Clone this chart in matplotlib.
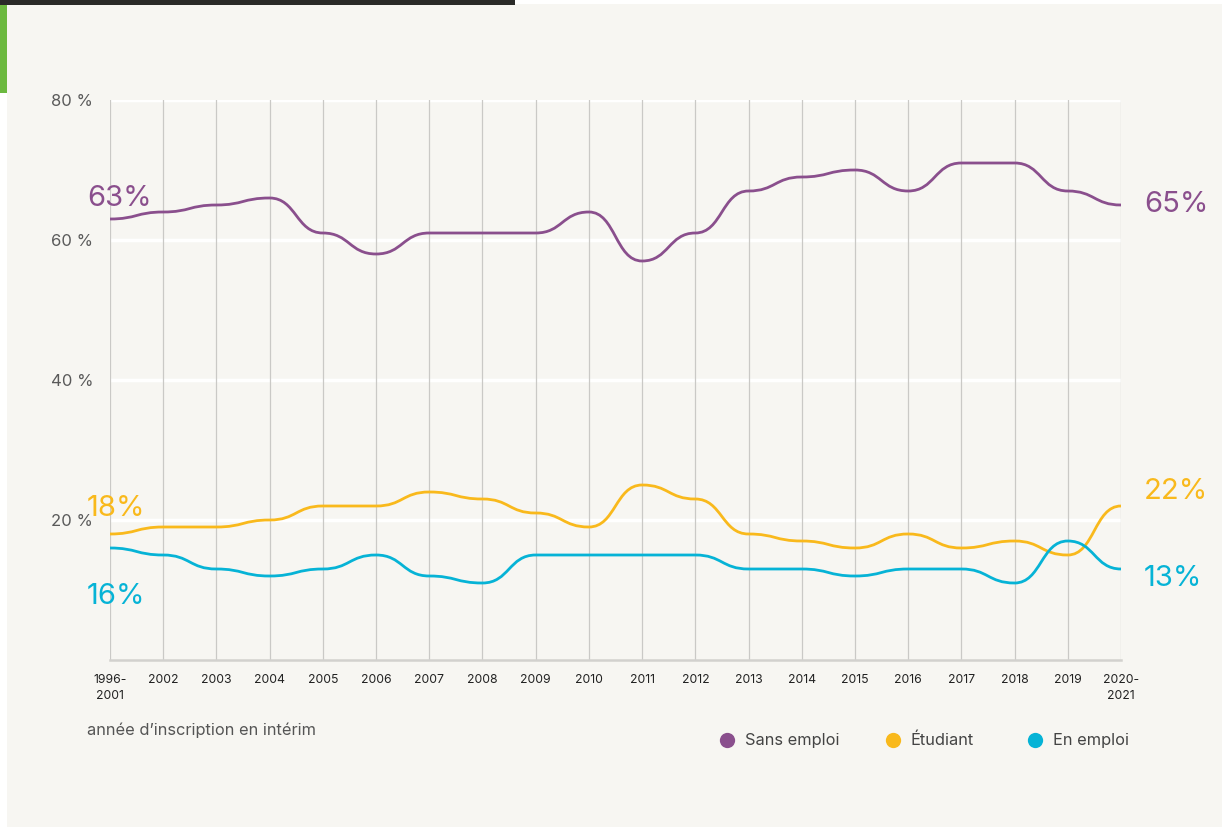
import matplotlib
matplotlib.use("Agg")
import matplotlib.pyplot as plt
from matplotlib.path import Path
from matplotlib.patches import PathPatch, Rectangle
from matplotlib.lines import Line2D

# Data
years = ["1996-\n2001", "2002", "2003", "2004", "2005", "2006", "2007", "2008", "2009",
         "2010", "2011", "2012", "2013", "2014", "2015", "2016", "2017", "2018", "2019",
         "2020-\n2021"]
sans_emploi = [63, 64, 65, 66, 61, 58, 61, 61, 61, 64, 57, 61, 67, 69, 70, 67, 71, 71, 67, 65]
etudiant = [18, 19, 19, 20, 22, 22, 24, 23, 21, 19, 25, 23, 18, 17, 16, 18, 16, 17, 15, 22]
en_emploi = [16, 15, 13, 12, 13, 15, 12, 11, 15, 15, 15, 15, 13, 13, 12, 13, 13, 11, 17, 13]
y_ticks = [20, 40, 60, 80]

series = [
    ("Sans emploi", sans_emploi, "#8a4f8d"),
    ("Étudiant", etudiant, "#f9b91c"),
    ("En emploi", en_emploi, "#06b3d6"),
]

W, H = 1222, 827
BG = "#f7f6f2"
FONT = "Inter"

fig = plt.figure(figsize=(W / 100, H / 100), dpi=100)
fig.patch.set_facecolor("white")


def fx(px):
    return px / W


def fy(py):
    return 1 - py / H


# page decorations: panel, top rule, green side tab
fig.add_artist(Rectangle((fx(7), 0), 1 - fx(7), fy(4), transform=fig.transFigure,
                         facecolor=BG, edgecolor="none", zorder=-10))
fig.add_artist(Rectangle((0, fy(5)), fx(515), 5 / H, transform=fig.transFigure,
                         facecolor="#2a2a28", edgecolor="none", zorder=-9))
fig.add_artist(Rectangle((0, fy(93)), fx(7), 88 / H, transform=fig.transFigure,
                         facecolor="#6cb93f", edgecolor="none", zorder=-9))

left, right, top, bottom = 110, 1121, 100, 660
ax = fig.add_axes([fx(left), fy(bottom), fx(right - left), (bottom - top) / H])
ax.set_facecolor("none")
ax.set_xlim(0, len(years) - 1)
ax.set_ylim(0, 80)
for s in ax.spines.values():
    s.set_visible(False)

# horizontal white gridlines
for t in y_ticks:
    ax.axhline(t, color="white", lw=2.5, zorder=1)
# vertical category gridlines
for i in range(len(years)):
    ax.axvline(i, color="#cac9c6", lw=0.9, zorder=2)
ax.axhline(0, color="#d2d1ce", lw=1.8, zorder=2, clip_on=False)

ax.set_yticks(y_ticks)
ax.set_yticklabels([f"{t} %" for t in y_ticks], fontsize=12, color="#5a5a5a",
                   fontfamily=FONT)
ax.tick_params(axis="y", length=0, pad=12)
ax.set_xticks(range(len(years)))
ax.set_xticklabels(years, fontsize=8.8, color="#222222", fontfamily=FONT,
                   linespacing=1.45, va="top")
ax.tick_params(axis="x", length=0, pad=10)


def bump_path(xs, ys):
    verts = [(xs[0], ys[0])]
    codes = [Path.MOVETO]
    for i in range(1, len(xs)):
        xm = (xs[i - 1] + xs[i]) / 2
        verts += [(xm, ys[i - 1]), (xm, ys[i]), (xs[i], ys[i])]
        codes += [Path.CURVE4] * 3
    return Path(verts, codes)


xs = list(range(len(years)))
for name, vals, col in series:
    ax.add_patch(PathPatch(bump_path(xs, vals), facecolor="none", edgecolor=col,
                           lw=2.0, capstyle="butt", zorder=4))

# end value labels
lbl = dict(fontsize=21, fontfamily=FONT)
fig.text(fx(87), fy(199), f"{sans_emploi[0]}%", color=series[0][2], va="center", ha="left", **lbl)
fig.text(fx(1144), fy(205), f"{sans_emploi[-1]}%", color=series[0][2], va="center", ha="left", **lbl)
fig.text(fx(87), fy(508), f"{etudiant[0]}%", color=series[1][2], va="center", ha="left", **lbl)
fig.text(fx(1144), fy(491), f"{etudiant[-1]}%", color=series[1][2], va="center", ha="left", **lbl)
fig.text(fx(87), fy(596), f"{en_emploi[0]}%", color=series[2][2], va="center", ha="left", **lbl)
fig.text(fx(1144), fy(578), f"{en_emploi[-1]}%", color=series[2][2], va="center", ha="left", **lbl)

# axis caption
fig.text(fx(87), fy(730), "année d’inscription en intérim", fontsize=11.8, color="#555555",
         fontfamily=FONT, va="center", ha="left")

# legend
leg_x = [727, 893, 1035]
for (name, vals, col), px in zip(series, leg_x):
    fig.text(fx(px + 18), fy(740), name, fontsize=11.8, color="#444444",
             fontfamily=FONT, va="center", ha="left")
    fig.add_artist(Line2D([fx(px)], [fy(740)], marker="o", markersize=11, markeredgewidth=0,
                          color=col, transform=fig.transFigure))

fig.savefig("out.png", dpi=100, facecolor=fig.get_facecolor())
